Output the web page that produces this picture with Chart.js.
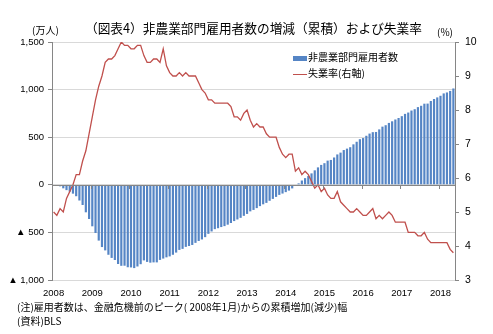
<!DOCTYPE html>
<html><head><meta charset="utf-8">
<script src="https://cdn.jsdelivr.net/npm/chart.js@4.4.1/dist/chart.umd.min.js"></script>
<style>
body{margin:0;background:#fff;}
#wrap{position:relative;width:493px;height:334px;font-family:"Noto Sans CJK JP","Liberation Sans",sans-serif;color:#000;overflow:hidden;}
canvas{position:absolute;left:0;top:0;}
.t{position:absolute;white-space:nowrap;line-height:1;}
.lg{position:absolute;left:293px;font-size:10px;line-height:1;white-space:nowrap;}
.sw{display:inline-block;width:14px;vertical-align:middle;margin-right:1px;}
</style></head><body>
<div id="wrap">
<canvas id="c" width="493" height="334"></canvas>
<div class="t" style="left:85px;top:22px;font-size:12.7px">（図表4）非農業部門雇用者数の増減（累積）および失業率</div>
<div class="t" style="left:32px;top:25px;font-size:10px">(万人)</div>
<div class="t" style="left:437px;top:27px;font-size:10px">(%)</div>
<div class="lg" style="top:52px"><span class="sw" style="height:5px;background:#5585C5"></span>非農業部門雇用者数</div>
<div class="lg" style="top:68px"><span class="sw" style="height:1.3px;background:#C0504D"></span>失業率(右軸)</div>
<div class="t" style="left:17px;top:302px;font-size:10px">(注)雇用者数は、金融危機前のピーク( 2008年1月)からの累積増加(減少)幅</div>
<div class="t" style="left:17px;top:316px;font-size:10px">(資料)BLS</div>
</div>
<script>
// Categories
const years = ['2008','2009','2010','2011','2012','2013','2014','2015','2016','2017','2018'];
const monthCount = 125; // 2008/1 - 2018/5

// Non-farm payrolls, cumulative change from Jan 2008 (10k persons)
const payrolls = [
  0, -9, -16, -37, -56, -72, -93, -120, -165, -212, -289, -359,
  -436, -506, -586, -654, -689, -735, -768, -790, -832, -851, -850, -866,
  -868, -875, -858, -834, -794, -810, -818, -815, -815, -789, -775, -762,
  -752, -735, -712, -684, -673, -652, -643, -632, -610, -590, -574, -550,
  -515, -490, -466, -456, -444, -434, -419, -401, -381, -364, -347, -326,
  -306, -279, -264, -245, -224, -205, -190, -168, -148, -127, -106, -92,
  -77, -61, -38, -8, 15, 45, 70, 92, 120, 152, 183, 209,
  227, 254, 261, 287, 319, 338, 365, 380, 395, 425, 452, 479,
  491, 515, 538, 553, 555, 582, 611, 626, 650, 667, 686, 702,
  721, 745, 759, 780, 794, 816, 830, 852, 853, 880, 901, 918,
  935, 960, 970, 986, 1012
];

// Unemployment rate (%)
const unemployment = [
  5.0, 4.9, 5.1, 5.0, 5.4, 5.6, 5.8, 6.1, 6.1, 6.5, 6.8, 7.3,
  7.8, 8.3, 8.7, 9.0, 9.4, 9.5, 9.5, 9.6, 9.8, 10.0, 9.9, 9.9,
  9.8, 9.8, 9.9, 9.9, 9.6, 9.4, 9.4, 9.5, 9.5, 9.4, 9.8, 9.3,
  9.1, 9.0, 9.0, 9.1, 9.0, 9.1, 9.0, 9.0, 9.0, 8.8, 8.6, 8.5,
  8.3, 8.3, 8.2, 8.2, 8.2, 8.2, 8.2, 8.1, 7.8, 7.8, 7.7, 7.9,
  8.0, 7.7, 7.5, 7.6, 7.5, 7.5, 7.3, 7.2, 7.2, 7.2, 6.9, 6.7,
  6.6, 6.7, 6.7, 6.2, 6.3, 6.1, 6.2, 6.1, 5.9, 5.7, 5.8, 5.6,
  5.7, 5.5, 5.4, 5.4, 5.6, 5.3, 5.2, 5.1, 5.0, 5.0, 5.1, 5.0,
  4.9, 4.9, 5.0, 5.1, 4.8, 4.9, 4.8, 4.9, 5.0, 4.9, 4.7, 4.7,
  4.7, 4.7, 4.4, 4.4, 4.4, 4.3, 4.3, 4.4, 4.2, 4.1, 4.1, 4.1,
  4.1, 4.1, 4.1, 3.9, 3.8
];

// Left/right tick settings
const leftTicks = {min: -1000, max: 1500, step: 500};
const rightTicks = {min: 3, max: 10, step: 1};

const labels = [];
for (let i = 0; i < monthCount; i++) {
  labels.push(years[Math.floor(i / 12)] + '/' + ((i % 12) + 1));
}

const zeroTicks = {
  id: 'zeroTicks',
  afterDatasetsDraw(chart) {
    const x = chart.scales.x, y = chart.scales.y;
    const ctx = chart.ctx;
    const y0 = y.getPixelForValue(0);
    ctx.save();
    ctx.strokeStyle = '#868686';
    ctx.lineWidth = 1;
    ctx.beginPath();
    ctx.moveTo(chart.chartArea.left, Math.round(y0) + 0.5);
    ctx.lineTo(chart.chartArea.right, Math.round(y0) + 0.5);
    for (let i = 0; i < labels.length; i += 12) {
      const px = Math.round(x.getPixelForValue(i) - (x.getPixelForValue(1) - x.getPixelForValue(0)) / 2) + 0.5;
      ctx.moveTo(px, Math.round(y0));
      ctx.lineTo(px, Math.round(y0) + 4);
    }
    ctx.stroke();
    ctx.restore();
  }
};

const numFont = {family: '"Liberation Sans", Arial, sans-serif', size: 9.5};

new Chart(document.getElementById('c'), {
  data: {
    labels: labels,
    datasets: [
      {
        type: 'line', label: '失業率(右軸)', data: unemployment, yAxisID: 'y1',
        borderColor: '#C0504D', borderWidth: 1.3, pointRadius: 0, tension: 0, order: 0
      },
      {
        type: 'bar', label: '非農業部門雇用者数', data: payrolls, yAxisID: 'y',
        backgroundColor: '#5585C5', barPercentage: 0.68, categoryPercentage: 1.0, order: 1
      }
    ]
  },
  plugins: [zeroTicks],
  options: {
    responsive: false,
    animation: false,
    layout: {padding: {top: 42, left: 0, right: 0, bottom: 0}},
    plugins: {legend: {display: false}, tooltip: {enabled: false}, title: {display: false}},
    scales: {
      x: {
        type: 'category',
        offset: true,
        grid: {display: false, drawTicks: false},
        border: {display: false},
        ticks: {
          autoSkip: false, maxRotation: 0, minRotation: 0, padding: 8, color: '#000',
          font: numFont,
          callback: (v, i) => (i % 12 === 0 ? years[i / 12] : '')
        },
        afterFit: s => { s.height = 54; }
      },
      y: {
        position: 'left',
        min: leftTicks.min, max: leftTicks.max,
        ticks: {
          stepSize: leftTicks.step, color: '#000', font: numFont, padding: 4,
          callback: v => (v < 0 ? '▲ ' + (-v).toLocaleString('en-US') : v.toLocaleString('en-US'))
        },
        grid: {color: '#D9D9D9', tickLength: 4, tickColor: '#868686'},
        border: {display: true, color: '#868686'},
        afterFit: s => { s.width = 52; }
      },
      y1: {
        position: 'right',
        min: rightTicks.min, max: rightTicks.max,
        ticks: {stepSize: rightTicks.step, color: '#000', font: {family: numFont.family, size: 10.5}, padding: 6},
        grid: {drawOnChartArea: false, tickLength: 4, tickColor: '#868686'},
        border: {display: true, color: '#868686'},
        afterFit: s => { s.width = 38; }
      }
    }
  }
});
</script>
</body></html>
